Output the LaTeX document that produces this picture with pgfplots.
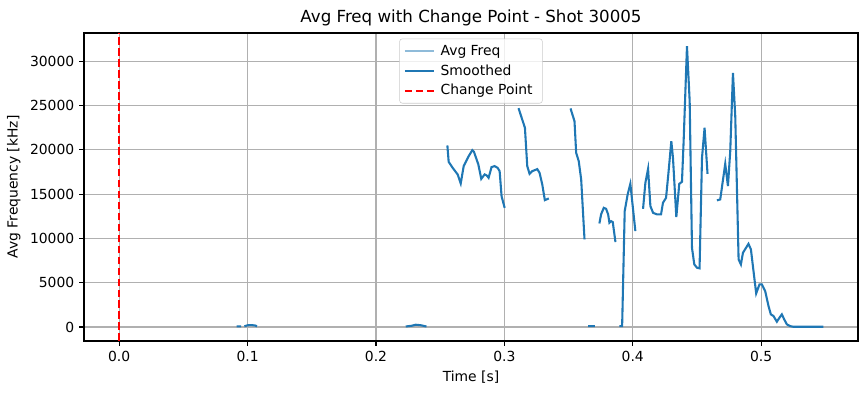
\documentclass[border=0pt]{standalone}
\usepackage{fontspec}
\setmainfont{DejaVu Sans}
\usepackage{pgfplots}
\pgfplotsset{compat=1.18}
\definecolor{tabblue}{HTML}{1F77B4}
\definecolor{lightblue}{HTML}{8FBBD9}
\definecolor{gridgray}{HTML}{B0B0B0}
\pgfplotsset{mpllegend/.style={legend image code/.code={\draw[##1] (0pt,0pt) -- (21pt,0pt);}}}
\begin{document}
\begin{tikzpicture}
\begin{axis}[name=ax,
  scale only axis, width=557.3pt, height=221.8pt,
  xmin=-0.0274, xmax=0.5754, ymin=-1580, ymax=33180,
  xtick={0,0.1,0.2,0.3,0.4,0.5},
  ytick={0,5000,10000,15000,20000,25000,30000},
  scaled y ticks=false, scaled x ticks=false,
  xticklabel style={/pgf/number format/.cd,fixed,fixed zerofill,precision=1},
  /pgf/number format/1000 sep={},
  /pgf/number format/assume math mode=true,
  tick label style={font=\fontsize{10}{12}\selectfont},
  label style={font=\fontsize{10}{12}\selectfont},
  title style={font=\fontsize{12}{14}\selectfont, yshift=-4.5pt},
  title={Avg Freq with Change Point - Shot 30005},
  xlabel={Time [s]}, ylabel={Avg Frequency [kHz]},
  tick align=outside, major tick length=3.5pt,
  every tick/.style={black, line width=0.8pt},
  axis line style={line width=0.8pt},
  xtick pos=bottom, ytick pos=left,
  grid=major, major grid style={gridgray, line width=0.8pt},
  unbounded coords=jump,
  legend style={at={(0.5,0.982)}, anchor=north, draw=black!20, rounded corners=2pt,
    fill=white, fill opacity=0.8, text opacity=1, font=\fontsize{10}{12}\selectfont,
    row sep=3.2pt, inner xsep=3pt, inner ysep=3.5pt,
    nodes={inner ysep=1pt, inner xsep=4pt}},
  legend cell align=left,
]
\addlegendimage{lightblue, line width=1.5pt, mpllegend}
\addlegendentry{Avg Freq}
\addplot[tabblue, line width=1.5pt, mpllegend] coordinates {
(0.0915,80) (0.0949,80) (0.0962,nan)
(0.0975,80) (0.1000,200) (0.1030,225) (0.1060,170) (0.1073,80) (0.12,nan)
(0.2232,60) (0.2280,150) (0.2310,260) (0.2350,200) (0.2393,60) (0.25,nan)
(0.2556,20490) (0.2566,18640) (0.2597,17970) (0.2636,17220) (0.2660,16200) (0.2683,18160) (0.2722,19280) (0.2750,19960) (0.2763,19770) (0.2797,18350) (0.2820,16720) (0.2846,17220) (0.2862,17110) (0.2877,16840) (0.2900,18050) (0.2924,18160) (0.2947,17970) (0.2963,17590) (0.2978,14770) (0.3002,13450) (0.305,nan)
(0.3110,24700) (0.3160,22480) (0.3178,18160) (0.3196,17290) (0.3217,17590) (0.3256,17820) (0.3274,17400) (0.3295,16090) (0.3315,14320) (0.3346,14510) (0.34,nan)
(0.3515,24670) (0.3546,23230) (0.3559,19660) (0.3579,18720) (0.3598,16660) (0.3624,9890) (0.364,nan)
(0.3652,100) (0.3704,100) (0.372,nan)
(0.3740,11690) (0.3753,12710) (0.3774,13450) (0.3792,13340) (0.3808,12710) (0.3818,11770) (0.3831,11950) (0.3844,11840) (0.3865,9590) (0.388,nan)
(0.3896,100) (0.3917,100) (0.3937,13080) (0.3960,14960) (0.3981,16160) (0.4020,10830) (0.405,nan)
(0.4080,13340) (0.4098,16270) (0.4119,17850) (0.4137,13650) (0.4158,12890) (0.4188,12710) (0.4220,12710) (0.4235,14020) (0.4259,14580) (0.4279,17590) (0.4300,20980) (0.4313,19090) (0.4339,12410) (0.4362,16160) (0.4383,16390) (0.4396,20980) (0.4422,31690) (0.4443,25490) (0.4461,8940) (0.4479,7070) (0.4500,6690) (0.4520,6620) (0.4539,19090) (0.4559,22480) (0.4582,17290) (0.462,nan)
(0.4655,14290) (0.4681,14400) (0.4720,18420) (0.4741,15900) (0.4759,19850) (0.4780,28680) (0.4798,23800) (0.4824,7630) (0.4842,7070) (0.4858,8380) (0.4901,9390) (0.4920,8760) (0.4940,6320) (0.4961,3800) (0.4987,4820) (0.5005,4820) (0.5031,4060) (0.5057,2370) (0.5075,1430) (0.5096,1240) (0.5122,600) (0.5142,1050) (0.5161,1430) (0.5179,870) (0.5200,300) (0.5225,110) (0.5250,30) (0.5300,30) (0.5400,30) (0.5485,30)
};
\addlegendentry{Smoothed}
\addplot[red, dashed, line width=1.5pt, dash pattern=on 5.5pt off 2.4pt, mpllegend] coordinates {(0,-1580) (0,33180)};
\addlegendentry{Change Point}
\end{axis}
\useasboundingbox ([xshift=-60.48pt,yshift=-37.44pt]ax.south west) rectangle ([xshift=7.2pt,yshift=23.76pt]ax.north east);
\end{tikzpicture}
\end{document}
